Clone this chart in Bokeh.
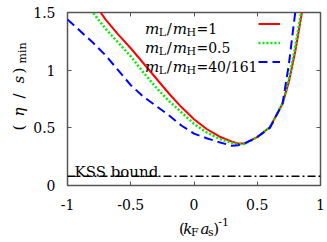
import math
from bokeh.plotting import figure
from bokeh.layouts import row, column
from bokeh.models import (Range1d, FixedTicker, LinearAxis, Label, Span,
                          Legend, LegendItem)
from bokeh.embed import file_html
from bokeh.resources import INLINE

# ---------------- data ----------------
x_ticks = [-1, -0.5, 0, 0.5, 1]
x_tick_labels = ["-1", "-0.5", "0", "0.5", "1"]
y_ticks = [0, 0.5, 1, 1.5]
y_tick_labels = ["0", "0.5", "1", "1.5"]

# m_L/m_H = 1
x_red = [-0.8, -0.75, -0.7, -0.6, -0.5, -0.4, -0.3, -0.2, -0.1, 0.0, 0.1, 0.2,
         0.3, 0.35, 0.4, 0.5, 0.6, 0.7, 0.75, 0.8, 0.85, 0.9]
y_red = [1.62, 1.52, 1.44, 1.31, 1.19, 1.06, 0.93, 0.80, 0.68, 0.575, 0.49, 0.425,
         0.38, 0.365, 0.365, 0.42, 0.505, 0.71, 0.90, 1.16, 1.48, 1.80]

# m_L/m_H = 0.5
x_green = [-0.85, -0.8, -0.7, -0.6, -0.5, -0.4, -0.3, -0.2, -0.1, 0.0, 0.1, 0.2,
           0.3, 0.35, 0.4, 0.5, 0.6, 0.7, 0.75, 0.8, 0.85, 0.9]
y_green = [1.58, 1.50, 1.36, 1.24, 1.12, 0.98, 0.85, 0.735, 0.635, 0.535, 0.46, 0.405,
           0.37, 0.36, 0.36, 0.42, 0.505, 0.71, 0.92, 1.20, 1.52, 1.85]

# m_L/m_H = 40/161
x_blue = [-1.0, -0.9, -0.8, -0.7, -0.6, -0.5, -0.4, -0.3, -0.2, -0.1, 0.0, 0.1,
          0.2, 0.3, 0.35, 0.4, 0.5, 0.6, 0.7, 0.75, 0.8, 0.85]
y_blue = [1.44, 1.34, 1.24, 1.13, 1.00, 0.87, 0.77, 0.69, 0.61, 0.52, 0.45, 0.41,
          0.375, 0.345, 0.35, 0.365, 0.42, 0.50, 0.71, 1.05, 1.50, 2.00]

kss_bound = 0.0796  # 1/(4 pi)

legend_values = ["1", "0.5", "40/161"]

# ---------------- main figure ----------------
X0, X1, Y0, Y1 = -1.0, 1.0, 0.0, 1.5
FL, FT, FW, FH = 65, 12, 255, 173  # frame position on page (px)
FONT = "DejaVu Serif"
GRAY = "#555555"
YL_W = 30      # width of the y-label strip
XL_H = 28      # height of the x-label strip
W, H = 327, 242

p = figure(width=W - YL_W, height=H - XL_H, x_range=Range1d(X0, X1), y_range=Range1d(Y0, Y1),
           output_backend="svg", toolbar_location=None,
           min_border_left=FL - YL_W, min_border_right=W - YL_W - (FL - YL_W) - FW,
           min_border_top=FT, min_border_bottom=H - XL_H - FT - FH)
p.xgrid.visible = False
p.ygrid.visible = False
p.outline_line_color = GRAY
p.outline_line_width = 1.5
p.background_fill_color = "white"
p.border_fill_color = "white"


def style_axis(ax, ticks, labels, standoff, show):
    ax.ticker = FixedTicker(ticks=ticks)
    ax.major_label_overrides = {t: (l if show else "") for t, l in zip(ticks, labels)}
    ax.axis_line_color = None
    ax.major_tick_in = 4
    ax.major_tick_out = 0
    ax.minor_tick_in = 0
    ax.minor_tick_out = 0
    ax.major_tick_line_color = GRAY
    ax.major_tick_line_width = 1
    ax.major_label_text_font = FONT
    ax.major_label_text_font_size = "14px" if show else "0px"
    ax.major_label_text_color = "black"
    ax.major_label_standoff = standoff


style_axis(p.xaxis[0], x_ticks, x_tick_labels, 13, True)
style_axis(p.yaxis[0], y_ticks, y_tick_labels, 12, True)
top_ax = LinearAxis()
right_ax = LinearAxis()
style_axis(top_ax, x_ticks, x_tick_labels, 0, False)
style_axis(right_ax, y_ticks, y_tick_labels, 0, False)
p.add_layout(top_ax, "above")
p.add_layout(right_ax, "right")

# KSS bound
p.add_layout(Span(location=kss_bound, dimension="width", line_color="black",
                  line_width=1.5, line_dash="8 3 2 3"))

r_red = p.line(x_red, y_red, line_color="#ff0000", line_width=2)
r_green = p.line(x_green, y_green, line_color="#00ee00", line_width=2.5, line_dash="2 2")
r_blue = p.line(x_blue, y_blue, line_color="#0000ff", line_width=2, line_dash="9 5")

legend = Legend(items=[LegendItem(label=" ", renderers=[r]) for r in (r_red, r_green, r_blue)],
                location=(191, 114.5), glyph_width=22, glyph_height=19, label_height=19,
                label_width=0, label_standoff=0, spacing=0, padding=0, margin=0,
                label_text_font_size="1px", border_line_color=None,
                background_fill_alpha=0)
p.add_layout(legend)


def dx(px):
    return X0 + (px - FL) / FW * (X1 - X0)


def dy(py):
    return Y0 + (FT + FH - py) / FH * (Y1 - Y0)


def txt(fig, s, x, y, size, style="normal", angle=0.0):
    fig.add_layout(Label(x=x, y=y, text=s, text_font=FONT,
                         text_font_size=f"{size}px", text_font_style=style,
                         text_align="left", text_baseline="alphabetic",
                         angle=angle, text_color="black"))


# legend texts (inside the frame)
for i, val in enumerate(legend_values):
    B = 28 + 19 * i
    txt(p, "m", dx(143), dy(B), 15, "italic")
    txt(p, "L", dx(157), dy(B + 4), 11)
    txt(p, "/", dx(165), dy(B), 15)
    txt(p, "m", dx(171), dy(B), 15, "italic")
    txt(p, "H", dx(185), dy(B + 4), 11)
    txt(p, "=" + val, dx(195), dy(B), 14)

# KSS label
txt(p, "KSS bound", dx(72), dy(171), 15)


# ---------------- label strips (page pixel coordinates) ----------------
def strip(w, h, xr, yr):
    f = figure(width=w, height=h, x_range=Range1d(*xr), y_range=Range1d(*yr),
               output_backend="svg", toolbar_location=None,
               x_axis_type=None, y_axis_type=None, min_border=0,
               min_border_left=0, min_border_right=0, min_border_top=0, min_border_bottom=0)
    f.outline_line_color = None
    f.xgrid.visible = False
    f.ygrid.visible = False
    f.background_fill_color = "white"
    f.border_fill_color = "white"
    return f


fx = strip(W - YL_W, XL_H, (YL_W, W), (H, H - XL_H))
txt(fx, "(", 161, 228, 15)
txt(fx, "k", 166, 228, 15, "italic")
txt(fx, "F", 175, 232, 11)
txt(fx, "a", 186, 228, 15, "italic")
txt(fx, "s", 195, 232, 11)
txt(fx, ")", 201, 228, 15)
txt(fx, "-1", 207, 221, 11)

fy = strip(YL_W, H, (0, YL_W), (H, 0))
A = math.pi / 2
txt(fy, "(", 18, 130, 15, "normal", A)
txt(fy, "η", 18, 116, 15, "italic", A)
txt(fy, "/", 18, 98, 15, "normal", A)
txt(fy, "s", 18, 83, 15, "italic", A)
txt(fy, ")", 18, 73, 15, "normal", A)
txt(fy, "min", 22, 63, 11, "normal", A)

layout = row(fy, column(p, fx, spacing=0), spacing=0)
open("out.html", "w").write(file_html(layout, INLINE))
